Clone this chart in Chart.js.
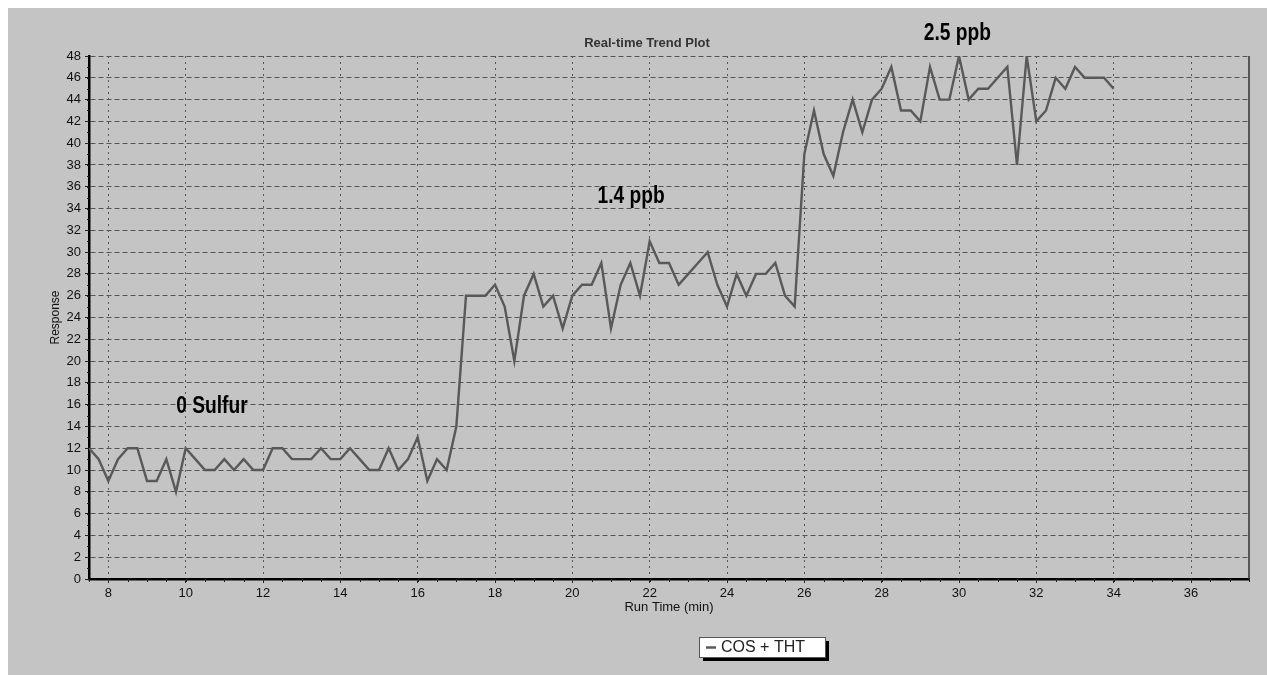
<!DOCTYPE html>
<html>
<head>
<meta charset="utf-8">
<title>Real-time Trend Plot</title>
<script src="https://cdn.jsdelivr.net/npm/chart.js@4.4.1/dist/chart.umd.min.js"></script>
<style>
    html, body { margin: 0; padding: 0; background: #ffffff; }
    #wrap { width: 1267px; height: 675px; position: relative; }
</style>
</head>
<body>
<div id="wrap"><canvas id="trendChart" width="1267" height="675"></canvas></div>
<script>
// Run time (min) of each sample
const runTimes = [
    7.5, 7.75, 8, 8.25, 8.5, 8.75, 9, 9.25, 9.5, 9.75,
    10, 10.25, 10.5, 10.75, 11, 11.25, 11.5, 11.75, 12, 12.25,
    12.5, 12.75, 13, 13.25, 13.5, 13.75, 14, 14.25, 14.5, 14.75,
    15, 15.25, 15.5, 15.75, 16, 16.25, 16.5, 16.75, 17, 17.25,
    17.5, 17.75, 18, 18.25, 18.5, 18.75, 19, 19.25, 19.5, 19.75,
    20, 20.25, 20.5, 20.75, 21, 21.25, 21.5, 21.75, 22, 22.25,
    22.5, 22.75, 23, 23.25, 23.5, 23.75, 24, 24.25, 24.5, 24.75,
    25, 25.25, 25.5, 25.75, 26, 26.25, 26.5, 26.75, 27, 27.25,
    27.5, 27.75, 28, 28.25, 28.5, 28.75, 29, 29.25, 29.5, 29.75,
    30, 30.25, 30.5, 30.75, 31, 31.25, 31.5, 31.75, 32, 32.25,
    32.5, 32.75, 33, 33.25, 33.5, 33.75, 34
];

// COS + THT response
const response = [
    12, 11, 9, 11, 12, 12, 9, 9, 11, 8,
    12, 11, 10, 10, 11, 10, 11, 10, 10, 12,
    12, 11, 11, 11, 12, 11, 11, 12, 11, 10,
    10, 12, 10, 11, 13, 9, 11, 10, 14, 26,
    26, 26, 27, 25, 20, 26, 28, 25, 26, 23,
    26, 27, 27, 29, 23, 27, 29, 26, 31, 29,
    29, 27, 28, 29, 30, 27, 25, 28, 26, 28,
    28, 29, 26, 25, 39, 43, 39, 37, 41, 44,
    41, 44, 45, 47, 43, 43, 42, 47, 44, 44,
    48, 44, 45, 45, 46, 47, 38, 48, 42, 43,
    46, 45, 47, 46, 46, 46, 45
];

const xTicks = [8, 10, 12, 14, 16, 18, 20, 22, 24, 26, 28, 30, 32, 34, 36];
const yTicks = [0, 2, 4, 6, 8, 10, 12, 14, 16, 18, 20, 22, 24, 26, 28, 30, 32, 34, 36, 38, 40, 42, 44, 46, 48];

const seriesLabel = 'COS + THT';
const noteTexts = ['0 Sulfur', '1.4 ppb', '2.5 ppb'];
const noteAt = [[10.68, 15.8], [21.52, 35.1], [29.96, 50.1]];

const fontFamily = '"Liberation Sans", Arial, sans-serif';
Chart.defaults.font.family = fontFamily;

// background, frame, minor ticks, notes, title and legend box
const trendDecor = {
    id: 'trendDecor',
    beforeDraw(chart) {
        const ctx = chart.ctx;
        ctx.save();
        ctx.fillStyle = '#ffffff';
        ctx.fillRect(0, 0, chart.width, chart.height);
        ctx.fillStyle = '#c4c4c4';
        ctx.fillRect(8, 8, chart.width - 8, chart.height - 8);
        ctx.restore();
    },
    afterDraw(chart) {
        const ctx = chart.ctx;
        const area = chart.chartArea;
        const xs = chart.scales.x, ys = chart.scales.y;
        ctx.save();

        // right frame line
        ctx.strokeStyle = '#333333';
        ctx.lineWidth = 1.5;
        ctx.beginPath();
        ctx.moveTo(area.right, area.top);
        ctx.lineTo(area.right, area.bottom);
        ctx.stroke();

        // minor ticks
        ctx.strokeStyle = '#222222';
        ctx.lineWidth = 1;
        ctx.beginPath();
        for (let v = xs.min; v <= xs.max + 1e-6; v += 0.5) {
            const px = Math.round(xs.getPixelForValue(v)) + 0.5;
            ctx.moveTo(px, area.bottom);
            ctx.lineTo(px, area.bottom + 3);
        }
        for (let v = ys.min; v <= ys.max; v += 1) {
            const py = Math.round(ys.getPixelForValue(v)) + 0.5;
            ctx.moveTo(area.left - 2, py);
            ctx.lineTo(area.left, py);
        }
        ctx.stroke();

        // concentration notes (narrow bold face, squeezed horizontally)
        ctx.fillStyle = '#000000';
        ctx.font = 'bold 24px ' + fontFamily;
        ctx.textAlign = 'center';
        ctx.textBaseline = 'middle';
        noteTexts.forEach((t, i) => {
            ctx.save();
            ctx.translate(xs.getPixelForValue(noteAt[i][0]), ys.getPixelForValue(noteAt[i][1]));
            ctx.scale(0.8, 1);
            ctx.fillText(t, 0, 0);
            ctx.restore();
        });

        // plot title
        ctx.fillStyle = '#333333';
        ctx.font = 'bold 13px ' + fontFamily;
        ctx.fillText('Real-time Trend Plot', (area.left + area.right) / 2 - 22, 43);

        // legend box with shadow
        const bx = 699, by = 637, bw = 126, bh = 20;
        ctx.fillStyle = '#000000';
        ctx.fillRect(bx + 4, by + 4, bw, bh);
        ctx.fillStyle = '#ffffff';
        ctx.fillRect(bx, by, bw, bh);
        ctx.strokeStyle = '#555555';
        ctx.lineWidth = 1;
        ctx.strokeRect(bx + 0.5, by + 0.5, bw, bh);
        const ds = chart.data.datasets[0];
        ctx.strokeStyle = ds.borderColor;
        ctx.lineWidth = 2.5;
        ctx.beginPath();
        ctx.moveTo(bx + 7, by + bh / 2 + 0.5);
        ctx.lineTo(bx + 17, by + bh / 2 + 0.5);
        ctx.stroke();
        ctx.fillStyle = '#222222';
        ctx.font = '16px ' + fontFamily;
        ctx.textAlign = 'left';
        ctx.fillText(ds.label, bx + 22, by + bh / 2 + 1);

        ctx.restore();
    }
};

new Chart(document.getElementById('trendChart'), {
    type: 'line',
    data: {
        datasets: [{
            label: seriesLabel,
            data: runTimes.map((t, i) => ({ x: t, y: response[i] })),
            borderColor: '#595959',
            borderWidth: 2.4,
            pointRadius: 0,
            tension: 0,
            fill: false
        }]
    },
    options: {
        responsive: false,
        animation: false,
        events: [],
        layout: { padding: { left: 0, right: 18, top: 56, bottom: 56 } },
        plugins: {
            legend: { display: false },
            title: { display: false },
            tooltip: { enabled: false }
        },
        scales: {
            x: {
                type: 'linear',
                min: 7.5,
                max: 37.5,
                afterBuildTicks: s => { s.ticks = xTicks.map(v => ({ value: v })); },
                afterFit: s => { s.height = 40; },
                grid: { color: '#555555', lineWidth: 1, tickLength: 4, tickColor: '#222222' },
                border: { display: true, color: '#000000', width: 2.5, dash: [2, 4] },
                ticks: { color: '#111111', font: { size: 13 }, padding: 3, maxRotation: 0 },
                title: { display: true, text: 'Run Time (min)', color: '#111111', font: { size: 13 }, padding: { top: 0, bottom: 4 } }
            },
            y: {
                min: 0,
                max: 48,
                afterBuildTicks: s => { s.ticks = yTicks.map(v => ({ value: v })); },
                afterFit: s => { s.width = 89; },
                grid: { color: '#555555', lineWidth: 1, tickLength: 4, tickColor: '#222222' },
                border: { display: true, color: '#000000', width: 2.5, dash: [5, 3] },
                ticks: { color: '#111111', font: { size: 13 }, padding: 4 },
                title: { display: true, text: 'Response', color: '#111111', font: { size: 12 }, padding: { top: 48, bottom: 0 } }
            }
        }
    },
    plugins: [trendDecor]
});
</script>
</body>
</html>
